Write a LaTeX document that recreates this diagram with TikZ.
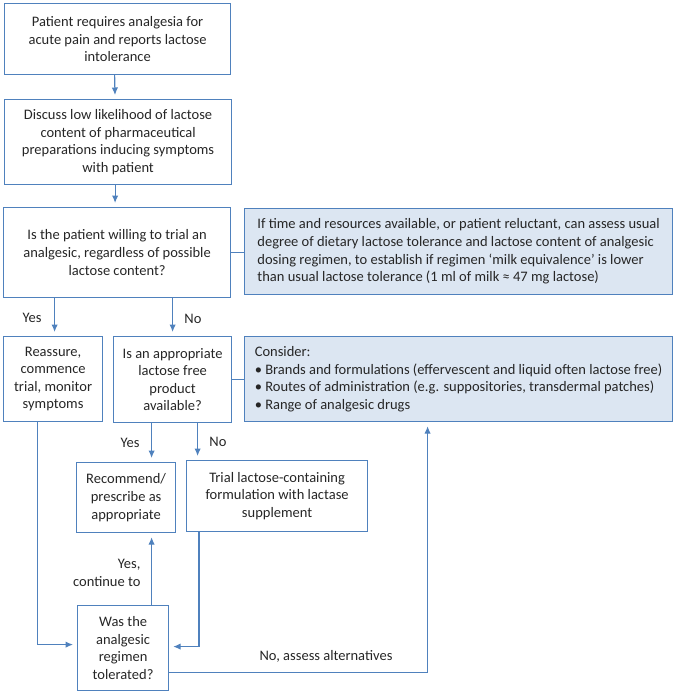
\documentclass[tikz,border=0pt]{standalone}
\usepackage{fontspec}
\setmainfont{Carlito}
\usetikzlibrary{arrows.meta}
\definecolor{boxblue}{RGB}{79,129,189}
\definecolor{notefill}{RGB}{220,230,242}
\tikzset{
  txt/.style={font=\fontsize{14.5}{17.6}\selectfont, text=black!85},
  stepbox/.style={txt, draw=boxblue, line width=1.2pt, anchor=north west, align=center, inner sep=2pt},
  notebox/.style={stepbox, fill=notefill, align=left, minimum width=428pt},
  link/.style={boxblue, line width=1.2pt},
  arr/.style={link, -{Latex[length=7.5pt,width=6.5pt]}, shorten >=4pt}
}

\begin{document}
\begin{tikzpicture}[x=1pt,y=-1pt]
  \useasboundingbox (0,0) rectangle (674,693);
  % boxes
  \node[stepbox, minimum width=226pt, minimum height=71pt] (pain) at (4,3)
    {Patient requires analgesia for\\acute pain and reports lactose\\intolerance};
  \node[stepbox, minimum width=227pt, minimum height=85pt] (discuss) at (4,99)
    {Discuss low likelihood of lactose\\content of pharmaceutical\\preparations inducing symptoms\\with patient};
  \node[stepbox, minimum width=227pt, minimum height=90pt] (willing) at (3,207)
    {Is the patient willing to trial an\\analgesic, regardless of possible\\lactose content?};
  \node[notebox, minimum height=86pt] (note1) at (244,208)
    {If time and resources available, or patient reluctant, can assess usual\\degree of dietary lactose tolerance and lactose content of analgesic\\dosing regimen, to establish if regimen `milk equivalence' is lower\\than usual lactose tolerance (1 ml of milk ≈ 47 mg lactose)};
  \node[stepbox, minimum width=99pt, minimum height=85pt] (reassure) at (3,336)
    {Reassure,\\commence\\trial, monitor\\symptoms};
  \node[stepbox, minimum width=118pt, minimum height=86pt] (avail) at (113,336)
    {Is an appropriate\\lactose free\\product\\available?};
  \node[notebox, minimum height=85pt] (note2) at (244,336)
    {Consider:\\\textbullet\ Brands and formulations (effervescent and liquid often lactose free)\\\textbullet\ Routes of administration (e.g. suppositories, transdermal patches)\\\textbullet\ Range of analgesic drugs};
  \node[stepbox, minimum width=99pt, minimum height=70pt] (recommend) at (76,462)
    {Recommend/\\prescribe as\\appropriate};
  \node[stepbox, minimum width=181pt, minimum height=71pt] (lactase) at (186,460)
    {Trial lactose-containing\\formulation with lactase\\supplement};
  \node[stepbox, minimum width=91pt, minimum height=85pt] (tolerated) at (77,605)
    {Was the\\analgesic\\regimen\\tolerated?};

  % connectors
  \draw[arr] ([xshift=-3pt]pain.south) -- ([xshift=-3pt]discuss.north);
  \draw[arr] ([xshift=-3pt]discuss.south) -- ([xshift=-3pt]discuss.south |- willing.north);
  \draw[link] (willing.east) -- (willing.east -| note1.west);
  \draw[arr] ([xshift=1.5pt]reassure.north |- willing.south) -- ([xshift=1.5pt]reassure.north);
  \draw[arr] (avail.north |- willing.south) -- (avail.north);
  \draw[link] (avail.east) -- (avail.east -| note2.west);
  \draw[arr] ([xshift=-21pt]avail.south) -- ([xshift=-21pt]avail.south |- recommend.north);
  \draw[arr] ([xshift=25pt]avail.south) -- ([xshift=25pt]avail.south |- lactase.north);
  \draw[arr] ([xshift=28.5pt]tolerated.north) -- ([xshift=28.5pt]tolerated.north |- recommend.south);
  \draw[arr] ([xshift=-15.5pt]reassure.south) |- ([yshift=3.5pt]tolerated.west);
  \draw[arr] ([xshift=13pt]lactase.south west) |- ([yshift=1.5pt]tolerated.east);
  \draw[arr] ([yshift=-24.5pt]tolerated.east) -| ([xshift=-31pt]note2.south);

  % labels
  \node[txt] (yes1) at (32,318) {Yes};
  \node[txt] (no1) at (193,319) {No};
  \node[txt] (yes2) at (130,443) {Yes};
  \node[txt] (no2) at (218,442) {No};
  \node[txt, anchor=east, align=right] (yes3) at (144,573) {Yes,\\continue to};
  \node[txt] (no3) at (326,656) {No, assess alternatives};
\end{tikzpicture}
\end{document}
